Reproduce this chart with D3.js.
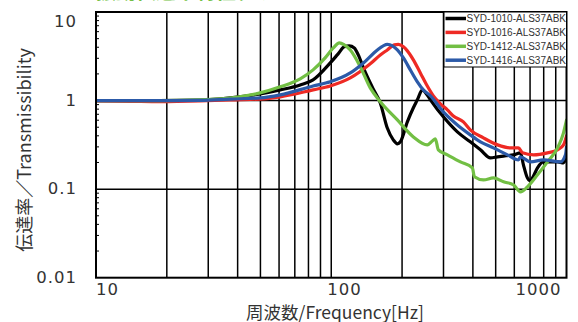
<!DOCTYPE html>
<html>
<head>
<meta charset="utf-8">
<script src="https://cdn.jsdelivr.net/npm/d3@7"></script>
<style>
body { margin: 0; background: #fff; }
svg { display: block; font-family: "Noto Sans CJK JP", "Noto Sans", sans-serif; }
</style>
</head>
<body>
<div id="chart"></div>
<script>
const width = 578, height = 322;
const margin = {top: 12, right: 11.5, bottom: 44.3, left: 96};

const seriesNames = ["SYD-1010-ALS37ABK", "SYD-1016-ALS37ABK", "SYD-1412-ALS37ABK", "SYD-1416-ALS37ABK"];
const seriesColors = ["#000000", "#ee2a24", "#72bf44", "#2c5aa8"];
const xTickValues = [10, 100, 1000];
const yTickValues = [0.01, 0.1, 1, 10];

// frequency [Hz] / transmissibility
const freq1010 = [10, 18.7, 27.7, 37.2, 49.8, 60.7, 73.8, 83.7, 99, 107, 113.6, 119.3, 125.3, 130.3, 137, 150, 161.6, 173.1, 183.5, 191, 196.7, 210.6, 223.4, 232.3, 243.9, 253.9, 264, 299.6, 343.6, 390, 430.6, 475, 509, 553, 595, 637, 656, 682, 703, 724, 753, 798, 856, 916, 971, 1000];
const trans1010 = [1.0, 1.0, 1.01, 1.07, 1.19, 1.32, 1.50, 1.71, 2.66, 3.37, 4.04, 4.14, 3.93, 3.28, 2.34, 1.39, 0.94, 0.49, 0.36, 0.325, 0.342, 0.575, 0.83, 1.02, 1.32, 1.19, 1.02, 0.655, 0.443, 0.342, 0.278, 0.2255, 0.2315, 0.238, 0.244, 0.257, 0.188, 0.134, 0.124, 0.141, 0.174, 0.203, 0.203, 0.203, 0.198, 0.2315];

const freq1016 = [10, 14, 18.7, 27.7, 37.2, 49.8, 60.7, 83.7, 99, 120.5, 146.5, 161.6, 173.1, 185.4, 192.8, 202.7, 210.6, 223.4, 239.2, 256, 271.7, 291, 311.6, 330.4, 364.5, 390, 443.5, 509, 578, 625, 650, 724, 830, 916, 971, 1000];
const trans1016 = [0.99, 0.98, 0.97, 0.99, 1.02, 1.04, 1.10, 1.32, 1.46, 1.80, 2.60, 3.27, 3.73, 4.25, 4.30, 4.04, 3.64, 2.88, 2.05, 1.46, 1.13, 0.92, 0.785, 0.67, 0.575, 0.467, 0.379, 0.316, 0.292, 0.292, 0.257, 0.244, 0.257, 0.278, 0.316, 0.40];

const freq1412 = [10, 18.7, 27.7, 39.4, 49.8, 60.7, 73.8, 83.7, 94.2, 102, 108.3, 113.6, 120.5, 133, 146.5, 161.6, 191, 223.4, 256, 269, 277, 285.3, 311.6, 354, 398, 406, 443.5, 489, 540, 595, 637, 682, 753, 830, 916, 971, 1000];
const trans1412 = [1.0, 1.0, 1.02, 1.09, 1.22, 1.43, 1.76, 2.22, 3.03, 3.93, 4.48, 4.25, 3.73, 2.40, 1.39, 0.97, 0.605, 0.389, 0.316, 0.35, 0.37, 0.278, 0.244, 0.203, 0.174, 0.138, 0.127, 0.134, 0.121, 0.112, 0.093, 0.106, 0.145, 0.203, 0.292, 0.432, 0.6];

const freq1416 = [10, 18.7, 27.7, 37.2, 49.8, 60.7, 83.7, 99, 120.5, 137, 157, 166.4, 173.1, 182, 191, 202.7, 216.8, 232.3, 246.4, 264, 299.6, 343.6, 390, 430.6, 489, 561, 625, 637, 703, 798, 943, 990, 1000];
const trans1416 = [1.0, 1.0, 1.005, 1.04, 1.07, 1.16, 1.46, 1.63, 2.05, 2.66, 3.73, 4.15, 4.30, 4.15, 3.73, 3.03, 2.22, 1.63, 1.32, 1.13, 0.745, 0.53, 0.41, 0.342, 0.292, 0.244, 0.214, 0.2315, 0.203, 0.214, 0.203, 0.244, 0.30];

const seriesFreq = [freq1010, freq1016, freq1412, freq1416];
const seriesTrans = [trans1010, trans1016, trans1412, trans1416];

const svg = d3.select("#chart").append("svg")
    .attr("width", width)
    .attr("height", height);

const x = d3.scaleLog()
    .domain([10, 1000])
    .range([margin.left, width - margin.right]);

const y = d3.scaleLog()
    .domain([0.01, 10])
    .range([height - margin.bottom, margin.top]);

// title above the picture, only its lower edge shows
svg.append("text")
    .attr("x", 96)
    .attr("y", -1)
    .attr("fill", "#72bf44")
    .style("font-size", "20px")
    .style("font-weight", "bold")
    .text("振動伝達率特性グラフ");

// vertical grid (every 1-9 x decade)
svg.append("g")
    .selectAll("line")
    .data(x.ticks().filter(d => d > 10 && d < 1000))
    .enter().append("line")
    .attr("x1", d => x(d)).attr("x2", d => x(d))
    .attr("y1", y(10)).attr("y2", y(0.01))
    .attr("stroke", "#000")
    .attr("stroke-width", 1.5);

// horizontal grid (decades only)
svg.append("g")
    .selectAll("line")
    .data([0.1, 1])
    .enter().append("line")
    .attr("x1", x(10)).attr("x2", x(1000))
    .attr("y1", d => y(d)).attr("y2", d => y(d))
    .attr("stroke", "#000")
    .attr("stroke-width", 1.5);

// minor ticks on the left axis, pointing inward
svg.append("g")
    .selectAll("line")
    .data(y.ticks().filter(d => !yTickValues.includes(d)))
    .enter().append("line")
    .attr("x1", x(10)).attr("x2", x(10) + 3)
    .attr("y1", d => y(d)).attr("y2", d => y(d))
    .attr("stroke", "#000")
    .attr("stroke-width", 1);

svg.append("defs").append("clipPath")
    .attr("id", "plot-clip")
    .append("rect")
    .attr("x", x(10)).attr("y", y(10))
    .attr("width", x(1000) - x(10))
    .attr("height", y(0.01) - y(10));

const line = d3.line()
    .x(d => x(d[0]))
    .y(d => y(d[1]))
    .curve(d3.curveMonotoneX);

const curves = svg.append("g").attr("clip-path", "url(#plot-clip)");
seriesNames.forEach((name, i) => {
    const pts = seriesFreq[i].map((f, j) => [f, seriesTrans[i][j]]);
    curves.append("path")
        .datum(pts)
        .attr("d", line)
        .attr("fill", "none")
        .attr("stroke", seriesColors[i])
        .attr("stroke-width", 3.2)
        .attr("stroke-linejoin", "round")
        .attr("stroke-linecap", "round");
});

// frame
svg.append("rect")
    .attr("x", x(10)).attr("y", y(10))
    .attr("width", x(1000) - x(10))
    .attr("height", y(0.01) - y(10))
    .attr("fill", "none")
    .attr("stroke", "#000")
    .attr("stroke-width", 2);

// legend
const legend = svg.append("g").attr("transform", `translate(${x(1000) - 122.5}, ${y(10)})`);
legend.append("rect")
    .attr("width", 122.5)
    .attr("height", 55)
    .attr("fill", "#fff")
    .attr("stroke", "#000")
    .attr("stroke-width", 1);
seriesNames.forEach((name, i) => {
    const ly = 6.5 + i * 13.9;
    legend.append("line")
        .attr("x1", 1.5).attr("x2", 22)
        .attr("y1", ly).attr("y2", ly)
        .attr("stroke", seriesColors[i])
        .attr("stroke-width", 3.5);
    legend.append("text")
        .attr("x", 22.5)
        .attr("y", ly + 3.6)
        .attr("fill", "#333")
        .style("font-family", "'Liberation Sans', Arial, sans-serif")
        .style("font-size", "10px")
        .text(name);
});

// tick labels; the top one sits inside the frame
const tickFont = "'DejaVu Sans', sans-serif";
svg.append("g")
    .selectAll("text")
    .data(yTickValues)
    .enter().append("text")
    .attr("x", 77)
    .attr("y", d => d === 10 ? y(d) + 15 : y(d) + 5)
    .attr("text-anchor", "end")
    .attr("fill", "#333")
    .style("font-family", tickFont)
    .style("font-size", "16.5px")
    .style("letter-spacing", "1px")
    .text(d => d3.format("~g")(d));

const xLabelAnchor = ["start", "start", "end"];
const xLabelShift = [0, -4, -5];
svg.append("g")
    .selectAll("text")
    .data(xTickValues)
    .enter().append("text")
    .attr("x", (d, i) => x(d) + xLabelShift[i])
    .attr("y", 295)
    .attr("text-anchor", (d, i) => xLabelAnchor[i])
    .attr("fill", "#333")
    .style("font-family", tickFont)
    .style("font-size", "16.5px")
    .style("letter-spacing", "1px")
    .text(d => d);

// axis titles
svg.append("text")
    .attr("x", 335)
    .attr("y", 318.5)
    .attr("text-anchor", "middle")
    .attr("fill", "#333")
    .style("font-size", "17.5px")
    .text("周波数/Frequency[Hz]");

svg.append("text")
    .attr("transform", "translate(31, 150) rotate(-90)")
    .attr("text-anchor", "middle")
    .attr("fill", "#333")
    .style("font-size", "18px")
    .text("伝達率／Transmissibility");
</script>
</body>
</html>
